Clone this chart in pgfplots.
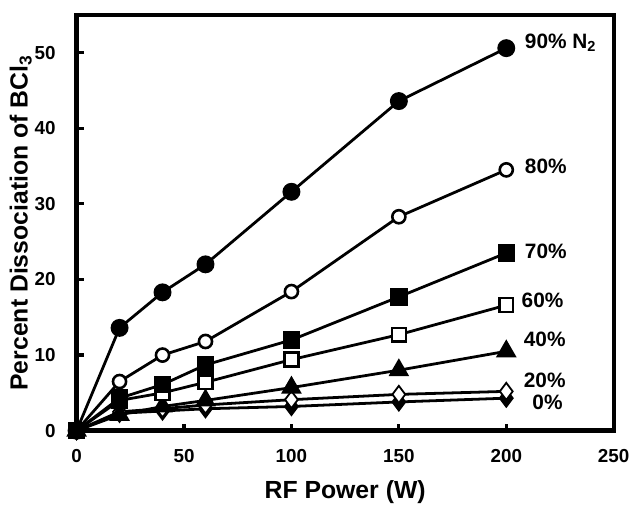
\documentclass[border=0pt]{standalone}
\usepackage{fontspec}
\setmainfont{Liberation Sans}
\usepackage{pgfplots}
\pgfplotsset{compat=1.18}
\usetikzlibrary{calc}

\begin{document}
\begin{tikzpicture}
\begin{axis}[
    name=ax,
    width=270bp, height=209bp, scale only axis,
    xmin=0, xmax=250, ymin=0, ymax=55,
    xtick={0,50,...,250}, ytick={0,10,...,50},
    axis line style={line width=2.2bp},
    tick style={line width=1.6bp, black},
    major tick length=3.5bp,
    tick align=inside,
    xtick pos=bottom, ytick pos=left,
    tick label style={font=\bfseries\fontsize{9.5}{11}\selectfont},
    /pgf/number format/assume math mode=true,
    xticklabel style={yshift=-6bp},
    yticklabel style={xshift=-7bp},
    xlabel={RF Power (W)},
    ylabel={Percent Dissociation of BCl\textsubscript{3}},
    label style={font=\bfseries\fontsize{12.5}{14}\selectfont},
    xlabel style={at={(axis description cs:0.5,-0.148)}, anchor=center},
    ylabel style={at={(axis description cs:-0.104,0.5)}, anchor=center},
    clip=false,
    every axis plot/.append style={black, line width=1.4bp},
]
% 0%
\addplot[mark=diamond*, mark size=4.3bp, mark options={line width=0.9bp}] coordinates {
    (0,0) (20,2.3) (40,2.6) (60,2.9) (100,3.2) (150,3.8) (200,4.3)
};
% 20%
\addplot[mark=diamond*, mark size=4.3bp, mark options={fill=white, line width=0.9bp}] coordinates {
    (0,0) (20,2.5) (40,2.9) (60,3.4) (100,4.1) (150,4.8) (200,5.2)
};
% 40%
\addplot[mark=triangle*, mark size=5.2bp, mark options={line width=0.8bp}] coordinates {
    (0,0) (20,2.1) (40,3.2) (60,4.0) (100,5.7) (150,8.0) (200,10.5)
};
% 60%
\addplot[mark=square*, mark size=3.5bp, mark options={fill=white, line width=1.2bp}] coordinates {
    (0,0) (20,4.0) (40,5.0) (60,6.4) (100,9.4) (150,12.7) (200,16.6)
};
% 80%
\addplot[mark=*, mark size=3.3bp, mark options={fill=white, line width=1.3bp}] coordinates {
    (0,0) (20,6.5) (40,10.0) (60,11.8) (100,18.4) (150,28.3) (200,34.5)
};
% 90%
\addplot[mark=*, mark size=3.8bp] coordinates {
    (0,0) (20,13.6) (40,18.3) (60,22.0) (100,31.6) (150,43.6) (200,50.6)
};
% 70%
\addplot[mark=square*, mark size=3.7bp] coordinates {
    (0,0) (20,4.3) (40,6.1) (60,8.7) (100,12.0) (150,17.7) (200,23.5)
};

\begin{scope}[every node/.style={anchor=west, inner sep=0pt, font=\bfseries\fontsize{10.5}{12}\selectfont}]
\node at (axis cs:208.5,51.3) {90\% N\textsubscript{2}};
\node at (axis cs:208.5,35.0) {80\%};
\node at (axis cs:208.5,23.7) {70\%};
\node at (axis cs:207,17.2) {60\%};
\node at (axis cs:208,12.1) {40\%};
\node at (axis cs:208,6.7) {20\%};
\node at (axis cs:212,3.8) {0\%};
\end{scope}
\end{axis}
\path[use as bounding box] ($(ax.south west)+(-38.5bp,-37.5bp)$) rectangle ($(ax.north east)+(9.5bp,7.5bp)$);
\end{tikzpicture}
\end{document}
